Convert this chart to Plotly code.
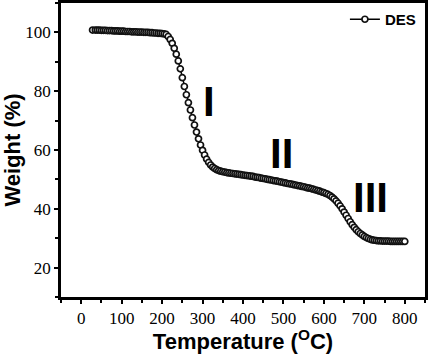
import plotly.graph_objects as go

temperature = [28, 35, 40, 45, 50, 55, 60, 65, 70, 75, 80, 85, 90, 95, 100, 105, 110, 115, 120,
               125, 130, 135, 140, 145, 150, 155, 160, 165, 170, 175, 180, 185, 190, 195, 200,
               205, 210, 215, 220, 225, 230, 235, 240, 245, 250, 255, 260, 265, 270, 275, 280,
               285, 290, 295, 300, 305, 310, 315, 320, 325, 330, 335, 340, 345, 350, 355, 360,
               365, 370, 375, 380, 385, 390, 395, 400, 405, 410, 415, 420, 425, 430, 435, 440,
               445, 450, 455, 460, 465, 470, 475, 480, 485, 490, 495, 500, 505, 510, 515, 520,
               525, 530, 535, 540, 545, 550, 555, 560, 565, 570, 575, 580, 585, 590, 595, 600,
               605, 610, 615, 620, 625, 630, 635, 640, 645, 650, 655, 660, 665, 670, 675, 680,
               685, 690, 695, 700, 705, 710, 715, 720, 725, 730, 735, 740, 745, 750, 755, 760,
               765, 770, 775, 780, 785, 790, 795, 800]
weight = [100.8, 100.8, 100.8, 100.8, 100.7, 100.7, 100.7, 100.6, 100.6, 100.6, 100.5, 100.5,
          100.5, 100.4, 100.4, 100.4, 100.3, 100.3, 100.3, 100.2, 100.2, 100.2, 100.1, 100.1,
          100.1, 100.0, 100.0, 100.0, 99.9, 99.9, 99.8, 99.8, 99.7, 99.7, 99.6,
          99.5, 99.3, 98.6, 97.6, 96.3, 94.6, 92.6, 90.3, 87.6, 84.6, 81.6, 78.8, 76.1, 73.6,
          71.0, 68.5, 66.1, 63.8, 61.7, 59.9, 58.3, 56.9, 55.8, 54.9, 54.2, 53.7, 53.3, 53.0,
          52.8, 52.6, 52.5, 52.3,
          52.2, 52.1, 52.0, 51.9, 51.8, 51.7, 51.6, 51.5, 51.4, 51.3, 51.2, 51.1, 51.0, 50.8,
          50.7, 50.6, 50.4, 50.3, 50.2, 50.0, 49.9, 49.8, 49.6, 49.5, 49.4, 49.2, 49.1, 48.9,
          48.8, 48.6, 48.5, 48.4, 48.2, 48.1, 47.9, 47.8, 47.6, 47.5, 47.3, 47.1, 47.0, 46.8,
          46.6, 46.4, 46.2, 46.0, 45.7, 45.5, 45.2, 44.9, 44.5, 44.0, 43.4, 42.7, 41.9, 41.0,
          40.0, 38.9, 37.8, 36.7, 35.6, 34.6, 33.7, 32.9, 32.2, 31.6, 31.1, 30.6, 30.2, 29.9,
          29.6, 29.4, 29.3, 29.2, 29.1, 29.1, 29.0, 29.0, 29.0, 29.0, 28.9, 28.9, 28.9, 28.9,
          28.9, 28.9, 28.9, 28.9, 28.9]

stage_labels = ["I", "II", "III"]
stage_x = [316, 495, 714]
stage_y = [76.5, 58.8, 43.8]

x_tickvals = [0, 100, 200, 300, 400, 500, 600, 700, 800]
y_tickvals = [20, 40, 60, 80, 100]

serif = "Liberation Serif"
sans = "Liberation Sans"

fig = go.Figure()
fig.add_trace(go.Scatter(
    x=temperature, y=weight, mode="lines+markers", name="DES",
    line=dict(color="black", width=1.5),
    marker=dict(symbol="circle", size=6, color="white", line=dict(color="#111", width=1.7)),
))

for lab, sx, sy in zip(stage_labels, stage_x, stage_y):
    fig.add_annotation(x=sx, y=sy, text=lab, showarrow=False,
                       font=dict(family=sans, size=42, color="black", weight="bold"))

axis_common = dict(showline=True, linecolor="black", linewidth=2.5, mirror=True,
                   ticks="outside", ticklen=4, tickwidth=2, tickcolor="black",
                   showgrid=False, zeroline=False, automargin=False,
                   tickfont=dict(family=serif, size=17, color="black"))

fig.update_layout(
    template="none",
    font=dict(family=serif, size=17, color="black"),
    width=429, height=354,
    margin=dict(l=61, r=4, t=3, b=57, autoexpand=False),
    plot_bgcolor="white", paper_bgcolor="white",
    showlegend=True,
    legend=dict(x=0.78, y=1.0, xanchor="left", yanchor="top", bgcolor="rgba(0,0,0,0)",
                font=dict(family=sans, size=15, color="black", weight="bold"),
                itemwidth=30, tracegroupgap=0),
    xaxis=dict(range=[-50, 850], tickvals=x_tickvals,
               minor=dict(ticks="outside", ticklen=3, tickwidth=1.5, tickcolor="black", dtick=50, tick0=-50),
               title=dict(text="Temperature (<sup>O</sup>C)", standoff=4,
                          font=dict(family=sans, size=22, color="black", weight="bold")),
               **axis_common),
    yaxis=dict(range=[10, 110], tickvals=y_tickvals,
               minor=dict(ticks="outside", ticklen=3, tickwidth=1.5, tickcolor="black", dtick=10, tick0=10),
               title=dict(text="Weight (%)", standoff=4,
                          font=dict(family=sans, size=22, color="black", weight="bold")),
               **axis_common),
)

fig.write_html("out.html", config={"displayModeBar": False},
               post_script="document.body.style.margin='0';document.body.style.padding='0';")
